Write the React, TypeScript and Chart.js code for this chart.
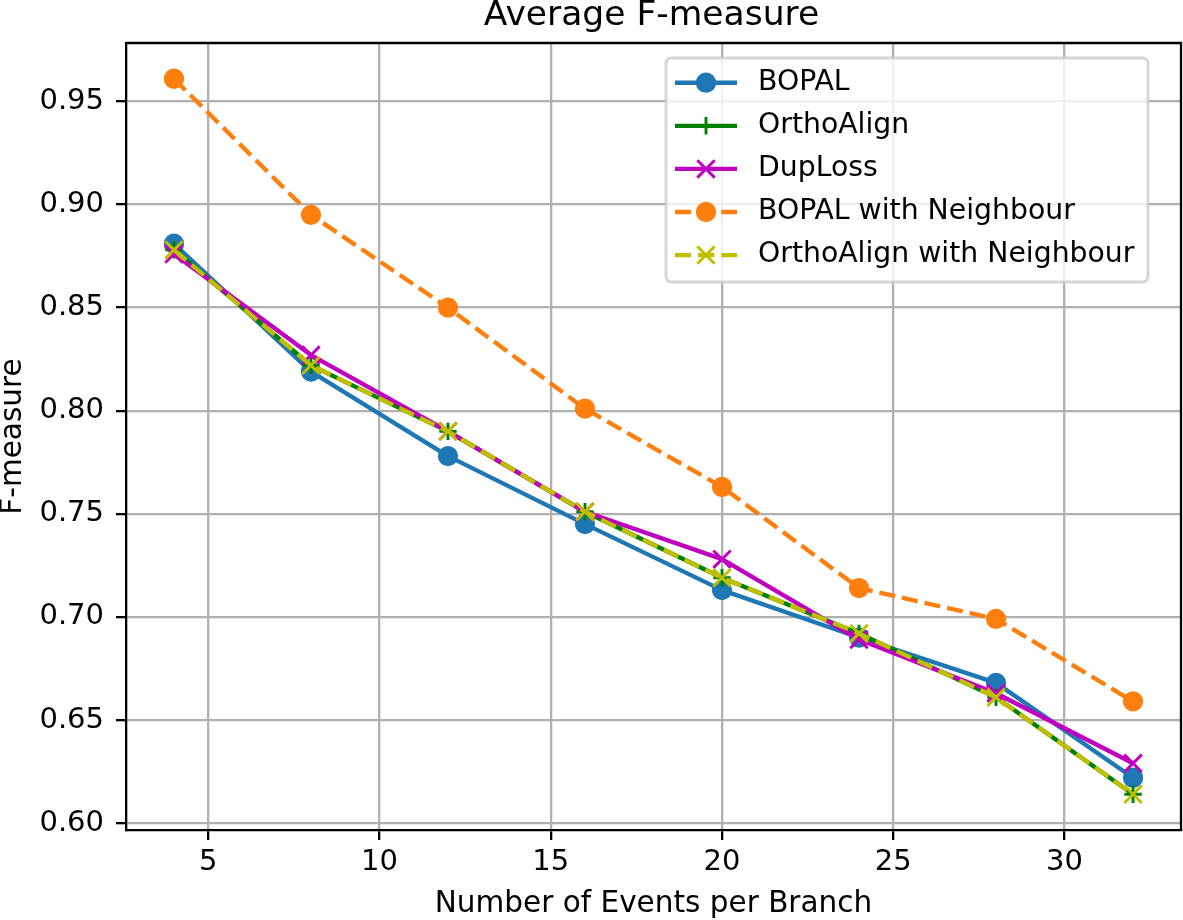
import React, { useEffect, useRef } from "react";
import { Chart, registerables } from "chart.js";

Chart.register(...registerables);

// ---- Data ----
const events = [4, 8, 12, 16, 20, 24, 28, 32];
const bopal = [0.881, 0.819, 0.778, 0.745, 0.713, 0.69, 0.668, 0.622];
const orthoAlign = [0.878, 0.822, 0.79, 0.751, 0.719, 0.692, 0.661, 0.614];
const dupLoss = [0.876, 0.827, 0.79, 0.751, 0.728, 0.689, 0.663, 0.629];
const bopalNeighbour = [0.961, 0.895, 0.85, 0.801, 0.763, 0.714, 0.699, 0.659];
const orthoAlignNeighbour = [0.878, 0.822, 0.79, 0.751, 0.719, 0.692, 0.661, 0.614];
const xTicks = [5, 10, 15, 20, 25, 30];
const yTicks = [0.6, 0.65, 0.7, 0.75, 0.8, 0.85, 0.9, 0.95];

const titleText = "Average F-measure";
const xLabel = "Number of Events per Branch";
const yLabel = "F-measure";

const FONT = "DejaVu Sans";
const LW = 4.35;
const MEW = 2.9;
const MS = 8.7;

type Marker = "circle" | "plus" | "x";
const series: { label: string; values: number[]; color: string; dash: number[]; marker: Marker }[] = [
  { label: "BOPAL", values: bopal, color: "#1f77b4", dash: [], marker: "circle" },
  { label: "OrthoAlign", values: orthoAlign, color: "#008000", dash: [], marker: "plus" },
  { label: "DupLoss", values: dupLoss, color: "#bf00bf", dash: [], marker: "x" },
  { label: "BOPAL with Neighbour", values: bopalNeighbour, color: "#ff7f0e", dash: [16.1, 7], marker: "circle" },
  { label: "OrthoAlign with Neighbour", values: orthoAlignNeighbour, color: "#bfbf00", dash: [16.1, 7], marker: "x" },
];

function drawMarker(ctx: CanvasRenderingContext2D, m: Marker, x: number, y: number, color: string) {
  ctx.save();
  ctx.setLineDash([]);
  ctx.strokeStyle = color;
  ctx.fillStyle = color;
  ctx.lineWidth = MEW;
  ctx.beginPath();
  if (m === "circle") {
    ctx.arc(x, y, MS, 0, Math.PI * 2);
    ctx.fill();
    ctx.stroke();
  } else if (m === "plus") {
    ctx.moveTo(x - MS, y);
    ctx.lineTo(x + MS, y);
    ctx.moveTo(x, y - MS);
    ctx.lineTo(x, y + MS);
    ctx.stroke();
  } else {
    ctx.moveTo(x - MS, y - MS);
    ctx.lineTo(x + MS, y + MS);
    ctx.moveTo(x - MS, y + MS);
    ctx.lineTo(x + MS, y - MS);
    ctx.stroke();
  }
  ctx.restore();
}

const decorPlugin = {
  id: "decor",
  afterDatasetsDraw(chart: any) {
    const { ctx, chartArea } = chart;
    ctx.save();
    ctx.strokeStyle = "#000";
    ctx.lineWidth = 2.3;
    ctx.beginPath();
    ctx.moveTo(chartArea.left, chartArea.top);
    ctx.lineTo(chartArea.right, chartArea.top);
    ctx.lineTo(chartArea.right, chartArea.bottom);
    ctx.stroke();
    ctx.restore();
  },
  afterDraw(chart: any) {
    const { ctx, chartArea } = chart;
    const cx = (chartArea.left + chartArea.right) / 2;
    const cy = (chartArea.top + chartArea.bottom) / 2;
    ctx.save();
    ctx.fillStyle = "#000";
    ctx.textBaseline = "alphabetic";
    ctx.textAlign = "center";
    ctx.font = `34.5px "${FONT}"`;
    ctx.fillText(titleText, cx - 2, 25);
    ctx.font = `29.5px "${FONT}"`;
    ctx.fillText(xLabel, cx, 912);
    ctx.save();
    ctx.translate(21, cy);
    ctx.rotate(-Math.PI / 2);
    ctx.fillText(yLabel, 0, 0);
    ctx.restore();

    // Legend
    const bx = 666, by = 58, bw = 482, bh = 224, r = 6;
    ctx.beginPath();
    ctx.moveTo(bx + r, by);
    ctx.lineTo(bx + bw - r, by);
    ctx.quadraticCurveTo(bx + bw, by, bx + bw, by + r);
    ctx.lineTo(bx + bw, by + bh - r);
    ctx.quadraticCurveTo(bx + bw, by + bh, bx + bw - r, by + bh);
    ctx.lineTo(bx + r, by + bh);
    ctx.quadraticCurveTo(bx, by + bh, bx, by + bh - r);
    ctx.lineTo(bx, by + r);
    ctx.quadraticCurveTo(bx, by, bx + r, by);
    ctx.closePath();
    ctx.fillStyle = "rgba(255,255,255,0.8)";
    ctx.fill();
    ctx.strokeStyle = "rgba(204,204,204,0.8)";
    ctx.lineWidth = 2.9;
    ctx.stroke();

    series.forEach((s, i) => {
      const y = 82.7 + i * 43.1;
      ctx.save();
      ctx.strokeStyle = s.color;
      ctx.lineWidth = LW;
      ctx.lineCap = "butt";
      ctx.setLineDash(s.dash);
      ctx.beginPath();
      ctx.moveTo(675, y);
      ctx.lineTo(737, y);
      ctx.stroke();
      ctx.restore();
      drawMarker(ctx, s.marker, 706, y, s.color);
      ctx.fillStyle = "#000";
      ctx.textAlign = "left";
      ctx.textBaseline = "middle";
      ctx.font = `28.3px "${FONT}"`;
      ctx.fillText(s.label, 758, y);
    });
    ctx.restore();
  },
};

const pointStyleMap: Record<Marker, string> = { circle: "circle", plus: "cross", x: "crossRot" };

export default function App() {
  const ref = useRef<HTMLCanvasElement>(null);
  useEffect(() => {
    document.body.style.margin = "0";
    const canvas = ref.current!;
    const gridOpts = {
      color: "#b0b0b0",
      lineWidth: 2.3,
      tickColor: "#000",
      tickWidth: 2.3,
      tickLength: 10,
      drawTicks: true,
    };
    const chart = new Chart(canvas, {
      type: "line",
      data: {
        datasets: series.map((s, i) => ({
          label: s.label,
          data: events.map((x, j) => ({ x, y: s.values[j] })),
          borderColor: s.color,
          backgroundColor: s.color,
          borderWidth: LW,
          borderDash: s.dash,
          borderJoinStyle: "round" as const,
          borderCapStyle: "butt" as const,
          pointStyle: pointStyleMap[s.marker] as any,
          pointRadius: s.marker === "x" ? MS * Math.SQRT2 : MS,
          pointBorderWidth: MEW,
          pointBackgroundColor: s.color,
          pointBorderColor: s.color,
          tension: 0,
          fill: false,
          clip: false as any,
          order: series.length - i,
        })),
      },
      options: {
        responsive: false,
        animation: false,
        events: [],
        layout: { autoPadding: false, padding: { left: 0, right: 2, top: 43, bottom: 0 } },
        plugins: {
          legend: { display: false },
          title: { display: false },
          tooltip: { enabled: false },
        },
        scales: {
          x: {
            type: "linear",
            min: 2.6,
            max: 33.4,
            afterBuildTicks: (s: any) => {
              s.ticks = xTicks.map((v) => ({ value: v }));
            },
            afterFit: (s: any) => {
              s.height = 90;
              s.paddingLeft = 0;
              s.paddingRight = 0;
              s.paddingTop = 0;
              s.paddingBottom = 0;
            },
            grid: gridOpts,
            border: { display: true, color: "#000", width: 2.3 },
            ticks: {
              color: "#000",
              font: { family: FONT, size: 29 },
              padding: 5,
              maxRotation: 0,
              autoSkip: false,
              callback: (v: any) => String(v),
            },
          },
          y: {
            type: "linear",
            min: 0.59665,
            max: 0.97835,
            afterBuildTicks: (s: any) => {
              s.ticks = yTicks.map((v) => ({ value: v }));
            },
            afterFit: (s: any) => {
              s.width = 126;
              s.paddingLeft = 0;
              s.paddingRight = 0;
              s.paddingTop = 0;
              s.paddingBottom = 0;
            },
            grid: gridOpts,
            border: { display: true, color: "#000", width: 2.3 },
            ticks: {
              color: "#000",
              font: { family: FONT, size: 29 },
              padding: 12,
              autoSkip: false,
              callback: (v: any) => Number(v).toFixed(2),
            },
          },
        },
      },
      plugins: [decorPlugin],
    });
    return () => chart.destroy();
  }, []);
  return (
    <div style={{ width: 1183, height: 920 }}>
      <canvas ref={ref} width={1183} height={920} style={{ display: "block" }} />
    </div>
  );
}
